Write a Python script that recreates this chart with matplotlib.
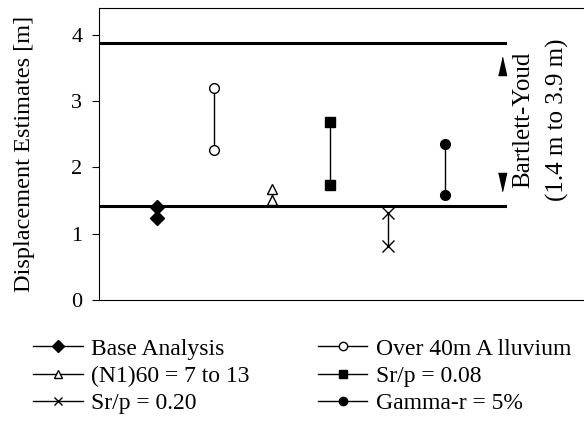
import matplotlib.pyplot as plt
from matplotlib.lines import Line2D

plt.rcParams["font.family"] = ["Liberation Serif", "DejaVu Serif"]

# case, x slot, high/low displacement estimates [m]
cases = ["Base Analysis", "Over 40m A lluvium", "(N1)60 = 7 to 13",
         "Sr/p = 0.08", "Sr/p = 0.20", "Gamma-r = 5%"]
slots = [1, 2, 3, 4, 5, 6]
high = [1.41, 3.20, 1.68, 2.68, 1.31, 2.35]
low = [1.23, 2.26, 1.51, 1.74, 0.81, 1.59]
markers = ["D", "o", "^", "s", "x", "o"]
filled = [True, False, False, True, False, True]

BY_LOW, BY_HIGH = 1.42, 3.87

fig = plt.figure(figsize=(5.84, 4.21), dpi=100)
ax = fig.add_axes([0.1695, 0.287, 0.84, 0.694])

for x, hi, lo, m, f in zip(slots, high, low, markers, filled):
    ax.plot([x, x], [lo, hi], color="black", lw=1.0, zorder=2)
    ax.plot([x, x], [lo, hi], linestyle="none", marker=m, ms=7 if m != "x" else 8,
            markerfacecolor="black" if f else "white", markeredgecolor="black",
            markeredgewidth=1.0, zorder=3)

# Bartlett-Youd range
ax.plot([0, 7.03], [BY_HIGH, BY_HIGH], color="black", lw=2.2, zorder=1)
ax.plot([0, 7.03], [BY_LOW, BY_LOW], color="black", lw=2.2, zorder=1)
up = [(-0.45, -1), (0.45, -1), (0, 1)]
down = [(-0.45, 1), (0.45, 1), (0, -1)]
ax.plot([6.98], [3.52], marker=up, ms=13, color="black", linestyle="none")
ax.plot([6.98], [1.78], marker=down, ms=13, color="black", linestyle="none")
ax.text(7.35, 2.72, "Bartlett-Youd", rotation=90, ha="center", va="center", fontsize=18)
ax.text(7.94, 2.72, "(1.4 m to 3.9 m)", rotation=90, ha="center", va="center", fontsize=18)

ax.set_xlim(0, 8.5)
ax.set_ylim(0, 4.4)
ax.set_yticks([0, 1, 2, 3, 4])
ax.set_xticks([])
ax.tick_params(axis="y", direction="out", length=5, pad=7, labelsize=16)
ax.set_ylabel("Displacement Estimates [m]", fontsize=17.5)
ax.yaxis.set_label_coords(-0.13, 0.5)
ax.spines["right"].set_visible(False)

handles = []
for label, m, f in zip(cases, markers, filled):
    handles.append(Line2D([], [], color="black", lw=1.0, marker=m, ms=6,
                          markerfacecolor="black" if f else "white",
                          markeredgecolor="black", label=label))
order = [0, 2, 4, 1, 3, 5]
fig.legend([handles[i] for i in order], [cases[i] for i in order],
           loc="upper left", bbox_to_anchor=(0.0565, 0.197), ncol=2, frameon=False,
           fontsize=17, handlelength=2.1, handletextpad=0.35, labelspacing=0.25,
           columnspacing=2.9, borderpad=0.0, borderaxespad=0.0)

fig.savefig("out.png", dpi=100)
